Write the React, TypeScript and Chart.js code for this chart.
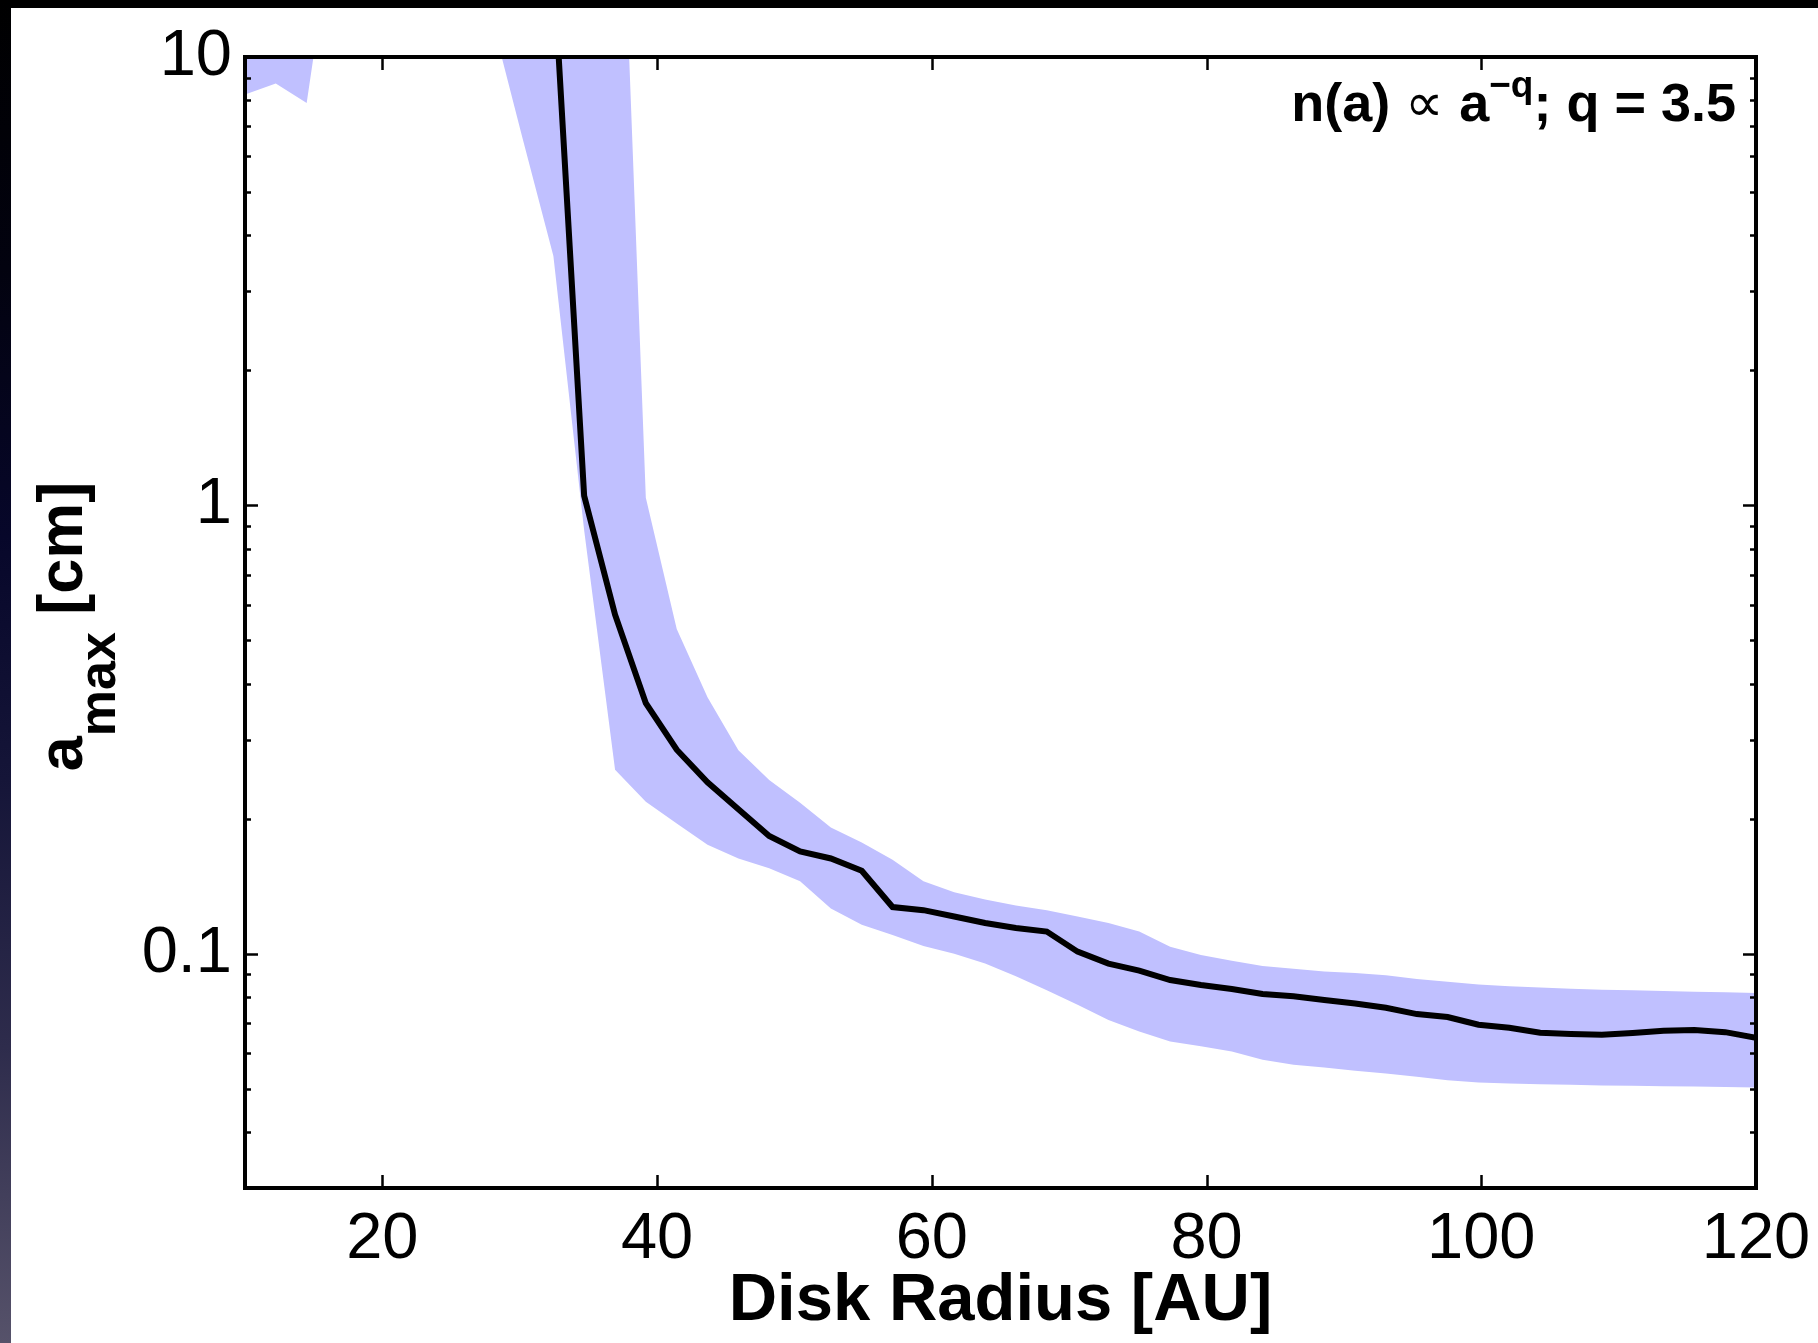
import React, { useEffect, useRef } from "react";
import { Chart, registerables } from "chart.js";

Chart.register(...registerables);

// Disk radius grid [AU]
const radiusAU = [
  10.0, 12.24, 14.49, 16.73, 18.98, 21.22, 23.47, 25.71, 27.96, 30.2,
  32.45, 34.69, 36.94, 39.18, 41.43, 43.67, 45.92, 48.16, 50.41, 52.65,
  54.9, 57.14, 59.39, 61.63, 63.88, 66.12, 68.37, 70.61, 72.86, 75.1,
  77.35, 79.59, 81.84, 84.08, 86.33, 88.57, 90.82, 93.06, 95.31, 97.55,
  99.8, 102.04, 104.29, 106.53, 108.78, 111.02, 113.27, 115.51, 117.76, 120.0,
];

// Upper edge of the shaded band [cm]
const aMaxUpper = [
  30, 30, 30, 40, 50, 60, 70, 80, 90, 100,
  110, 120, 68, 1.04, 0.53, 0.373, 0.284, 0.244, 0.217, 0.191,
  0.177, 0.162, 0.145, 0.137, 0.132, 0.128, 0.125, 0.121, 0.117, 0.112,
  0.1036, 0.0993, 0.0964, 0.0938, 0.0925, 0.0912, 0.0905, 0.0895, 0.0878, 0.0865,
  0.0853, 0.0846, 0.084, 0.0835, 0.0831, 0.0828, 0.0825, 0.0822, 0.082, 0.0817,
];

// Lower edge of the shaded band [cm]
const aMaxLower = [
  8.25, 8.73, 7.9, 23, 40, 50, 40, 25, 12.2, 6.6,
  3.6, 0.88, 0.257, 0.218, 0.195, 0.175, 0.163, 0.155, 0.145, 0.126,
  0.116, 0.11, 0.104, 0.0999, 0.095, 0.089, 0.0828, 0.0769, 0.0711, 0.067,
  0.0637, 0.0621, 0.0605, 0.058, 0.0565, 0.0557, 0.0548, 0.054, 0.0531, 0.0522,
  0.0516, 0.0513, 0.0511, 0.051, 0.0508, 0.0507, 0.0506, 0.0505, 0.0504, 0.0503,
];

// Best-fit a_max [cm]
const aMaxBest = [
  null, null, null, null, null, null, null, null, null, null,
  16, 1.05, 0.57, 0.362, 0.285, 0.241, 0.21, 0.183, 0.169, 0.163,
  0.153, 0.127, 0.125, 0.121, 0.117, 0.114, 0.112, 0.101, 0.095, 0.0916,
  0.0873, 0.0851, 0.0834, 0.0813, 0.0803, 0.0788, 0.0774, 0.0757, 0.0733, 0.0722,
  0.0694, 0.0683, 0.0666, 0.0662, 0.0659, 0.0665, 0.0673, 0.0675, 0.0668, 0.0649,
];

const xTickValues = [20, 40, 60, 80, 100, 120];
const yTickValues = [
  0.03, 0.04, 0.05, 0.06, 0.07, 0.08, 0.09,
  0.1, 0.2, 0.3, 0.4, 0.5, 0.6, 0.7, 0.8, 0.9,
  1, 2, 3, 4, 5, 6, 7, 8, 9, 10,
];
const yLabelValues = [0.1, 1, 10];

const FONT = '"Liberation Sans", Arial, Helvetica, sans-serif';
const BAND = "rgb(192,192,255)";

const toPoints = (arr: (number | null)[]) =>
  radiusAU.map((x, i) => ({ x, y: arr[i] }));

const framePlugin = {
  id: "frameAndText",
  afterDatasetsDraw(chart: any) {
    const { ctx, chartArea, scales } = chart;
    const { left, right, top, bottom } = chartArea;
    const xs = scales.x;
    const ys = scales.y;
    ctx.save();
    ctx.strokeStyle = "#000";
    ctx.lineCap = "butt";
    // tick marks (inward)
    ctx.lineWidth = 2.5;
    ctx.beginPath();
    for (const v of xTickValues) {
      const px = Math.round(xs.getPixelForValue(v)) + 0.5;
      ctx.moveTo(px, bottom);
      ctx.lineTo(px, bottom - 13);
      ctx.moveTo(px, top);
      ctx.lineTo(px, top + 13);
    }
    for (const v of yTickValues) {
      const py = Math.round(ys.getPixelForValue(v)) + 0.5;
      const len = yLabelValues.includes(v) ? 13 : 6;
      ctx.moveTo(left, py);
      ctx.lineTo(left + len, py);
      ctx.moveTo(right, py);
      ctx.lineTo(right - len, py);
    }
    ctx.stroke();
    // frame
    ctx.lineWidth = 4;
    ctx.lineJoin = "miter";
    ctx.strokeRect(left, top, right - left, bottom - top);

    // annotation text, right aligned
    ctx.fillStyle = "#000";
    ctx.textBaseline = "alphabetic";
    ctx.textAlign = "left";
    const big = `bold 54px ${FONT}`;
    const parts = [
      { t: "n(a) ", f: big, dy: 0 },
      { t: "\u221D", f: `54px ${FONT}`, dy: 0 },
      { t: " a", f: big, dy: 0 },
      { t: "\u2212q", f: `bold 37px ${FONT}`, dy: -24 },
      { t: "; q = 3.5", f: big, dy: 0 },
    ];
    let total = 0;
    const widths = parts.map((p) => {
      ctx.font = p.f;
      const w = ctx.measureText(p.t).width;
      total += w;
      return w;
    });
    let cx = right - 20 - total;
    const base = top + 64;
    parts.forEach((p, i) => {
      ctx.font = p.f;
      ctx.fillText(p.t, cx, base + p.dy);
      cx += widths[i];
    });

    // y axis title: a_max [cm], rotated
    const yParts = [
      { t: "a", f: `bold 63px ${FONT}`, dv: 0 },
      { t: "max", f: `bold 52px ${FONT}`, dv: 33 },
      { t: " [cm]", f: `bold 63px ${FONT}`, dv: 0 },
    ];
    let ytotal = 0;
    const yw = yParts.map((p) => {
      ctx.font = p.f;
      const w = ctx.measureText(p.t).width;
      ytotal += w;
      return w;
    });
    const centerY = (top + bottom) / 2 + 4;
    ctx.translate(82, centerY + ytotal / 2);
    ctx.rotate(-Math.PI / 2);
    let u = 0;
    yParts.forEach((p, i) => {
      ctx.font = p.f;
      ctx.fillText(p.t, u, p.dv);
      u += yw[i];
    });
    ctx.restore();
  },
};

export default function App() {
  const canvasRef = useRef<HTMLCanvasElement | null>(null);

  useEffect(() => {
    const canvas = canvasRef.current;
    if (!canvas) return;
    const chart = new Chart(canvas, {
      type: "line",
      data: {
        datasets: [
          {
            label: "best",
            data: toPoints(aMaxBest),
            borderColor: "#000",
            borderWidth: 6,
            pointRadius: 0,
            fill: false,
            tension: 0,
            order: 0,
          },
          {
            label: "upper",
            data: toPoints(aMaxUpper),
            borderColor: "rgba(0,0,0,0)",
            borderWidth: 0,
            backgroundColor: BAND,
            pointRadius: 0,
            fill: "+1",
            tension: 0,
            order: 1,
          },
          {
            label: "lower",
            data: toPoints(aMaxLower),
            borderColor: "rgba(0,0,0,0)",
            borderWidth: 0,
            pointRadius: 0,
            fill: false,
            tension: 0,
            order: 1,
          },
        ],
      } as any,
      options: {
        animation: false,
        responsive: false,
        devicePixelRatio: 1,
        layout: { padding: { top: 57, right: 62, left: 0, bottom: 0 } },
        plugins: {
          legend: { display: false },
          tooltip: { enabled: false },
          title: { display: false },
        },
        scales: {
          x: {
            type: "linear",
            min: 10,
            max: 120,
            grid: { display: false, drawTicks: false },
            border: { display: false },
            afterBuildTicks: (s: any) => {
              s.ticks = xTickValues.map((v) => ({ value: v }));
            },
            afterFit: (s: any) => {
              s.height = 155;
              s.paddingLeft = 0;
              s.paddingRight = 0;
            },
            ticks: {
              autoSkip: false,
              maxRotation: 0,
              padding: 13,
              color: "#000",
              font: { family: FONT, size: 65 },
              callback: (v: any) => String(v),
            },
            title: {
              display: true,
              text: "Disk Radius [AU]",
              color: "#000",
              font: { family: FONT, size: 67, weight: "bold" },
              padding: { top: 0, bottom: 1 },
            },
          },
          y: {
            type: "logarithmic",
            min: 0.03,
            max: 10,
            grid: { display: false, drawTicks: false },
            border: { display: false },
            afterBuildTicks: (s: any) => {
              s.ticks = yTickValues.map((v) => ({ value: v }));
            },
            afterFit: (s: any) => {
              s.width = 245;
              s.paddingTop = 0;
              s.paddingBottom = 0;
            },
            ticks: {
              autoSkip: false,
              padding: 13,
              color: "#000",
              font: { family: FONT, size: 65 },
              callback: (v: any) =>
                yLabelValues.includes(Number(v)) ? String(v) : "",
            },
          },
        },
      } as any,
      plugins: [framePlugin],
    });
    return () => chart.destroy();
  }, []);

  return (
    <div
      style={{
        position: "absolute",
        left: 0,
        top: 0,
        width: 1818,
        height: 1343,
        background: "#fff",
        overflow: "hidden",
      }}
    >
      <canvas
        ref={canvasRef}
        width={1818}
        height={1343}
        style={{ display: "block", width: 1818, height: 1343 }}
      />
      <div
        style={{
          position: "absolute",
          left: 0,
          top: 0,
          width: 1818,
          height: 8,
          background: "#000",
        }}
      />
      <div
        style={{
          position: "absolute",
          left: 0,
          top: 0,
          width: 11,
          height: 1343,
          background:
            "linear-gradient(to bottom, #000000 0%, #02020f 20%, #07072a 40%, #151538 58%, #2e2c4c 78%, #56526a 100%)",
        }}
      />
    </div>
  );
}
